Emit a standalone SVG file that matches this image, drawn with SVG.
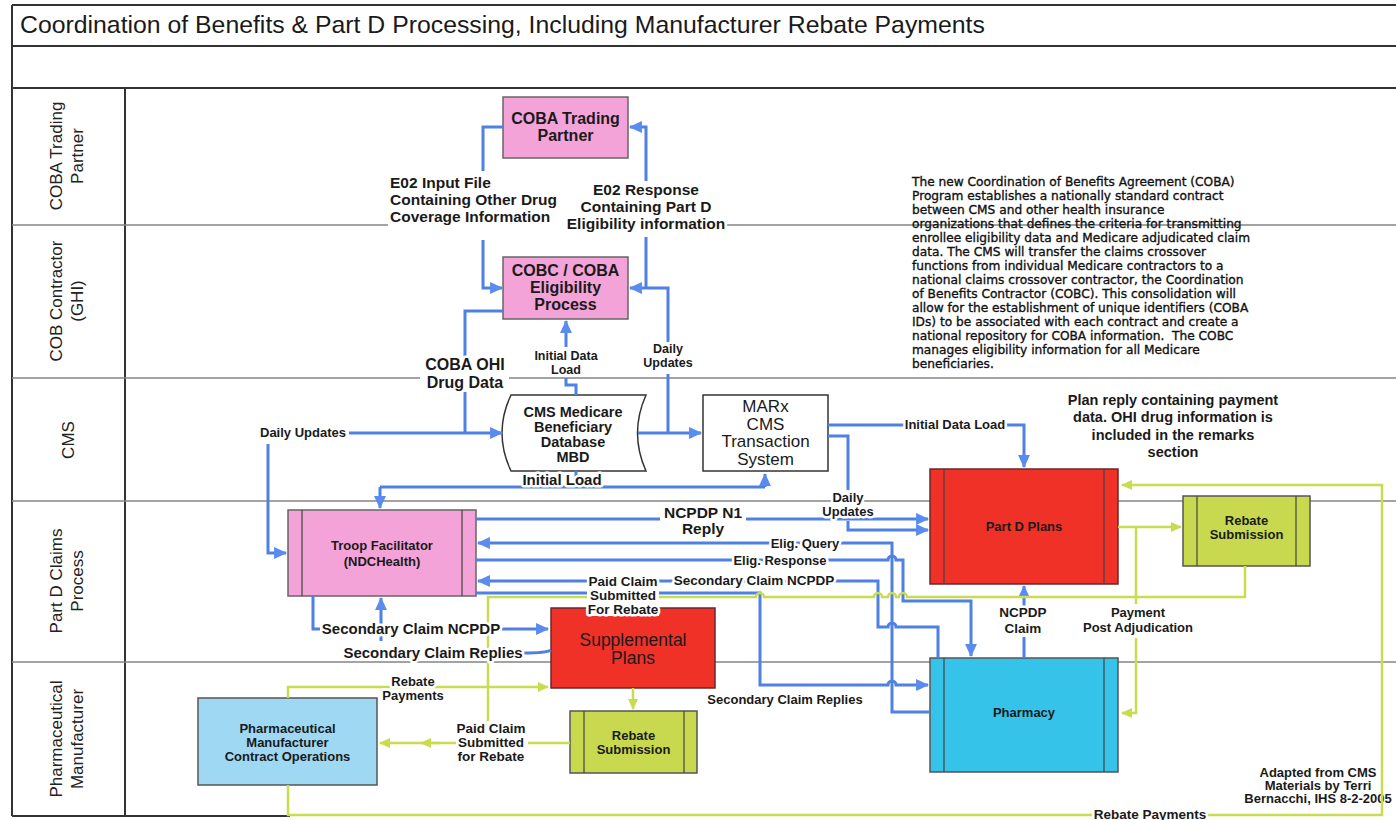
<svg xmlns="http://www.w3.org/2000/svg" width="1396" height="820" viewBox="0 0 1396 820">
<defs>
<style>
.frame{stroke:#333;stroke-width:2;fill:none}
.lane{stroke:#858585;stroke-width:1.5;fill:none}
.b{stroke:#4f80e4;stroke-width:3;fill:none}
.y{stroke:#c9dc4f;stroke-width:2.5;fill:none}
.ab{marker-end:url(#ma)}
.ay{marker-end:url(#my)}
text{font-family:"Liberation Sans",Arial,sans-serif;fill:#1a1a1a}
.ln{font-size:17px;text-anchor:middle;fill:#222}
.lbl{font-weight:bold;stroke:#fff;stroke-width:5;stroke-linejoin:round;paint-order:stroke;text-anchor:middle}
.nb{font-weight:bold;font-size:16px;text-anchor:middle}
.nt{font-weight:bold;font-size:13px;text-anchor:middle}
.pink{fill:#f4a3d9;stroke:#666;stroke-width:1.5}
.red{fill:#ef3128;stroke:#6a2a2a;stroke-width:1.5}
.grn{fill:#c8d94f;stroke:#555;stroke-width:1.5}
.cyan{fill:#36c3ea;stroke:#555;stroke-width:1.5}
.inner{stroke:#444;stroke-width:1.2;fill:none}
.para{font-family:"DejaVu Sans",Verdana,sans-serif;font-size:12.2px;fill:#111;stroke:#111;stroke-width:0.35}
</style>
<marker id="ma" viewBox="0 0 12 12" refX="11" refY="6" markerWidth="14" markerHeight="13" markerUnits="userSpaceOnUse" orient="auto"><path d="M0,0.5 L12,6 L0,11.5 Z" fill="#5a8cf0"/></marker>
<marker id="my" viewBox="0 0 12 12" refX="11" refY="6" markerWidth="13" markerHeight="11" markerUnits="userSpaceOnUse" orient="auto"><path d="M0,0.5 L12,6 L0,11.5 Z" fill="#c9dc4f"/></marker>
</defs>
<rect width="1396" height="820" fill="#fff"/>

<g id="frame">
<path class="frame" d="M12,5 H1396 M12,46 H1396 M12,88 H1396 M12,5 V816 M125,88 V816 M12,816 H290"/>
<path class="lane" d="M12,225 H388 M727,225 H1396 M12,378 H420 M509,378 H1396 M12,501 H1396 M12,662 H1396"/>
<text x="20" y="33" font-size="24.8">Coordination of Benefits &amp; Part D Processing, Including Manufacturer Rebate Payments</text>
</g>

<g id="lanes">
<text class="ln" transform="translate(62,156) rotate(-90)">COBA Trading</text>
<text class="ln" transform="translate(83,156) rotate(-90)">Partner</text>
<text class="ln" transform="translate(62,301) rotate(-90)">COB Contractor</text>
<text class="ln" transform="translate(83,301) rotate(-90)">(GHI)</text>
<text class="ln" transform="translate(74,440) rotate(-90)">CMS</text>
<text class="ln" transform="translate(62,581) rotate(-90)">Part D Claims</text>
<text class="ln" transform="translate(83,581) rotate(-90)">Process</text>
<text class="ln" transform="translate(62,739) rotate(-90)">Pharmaceutical</text>
<text class="ln" transform="translate(83,739) rotate(-90)">Manufacturer</text>
</g>

<g id="notes">
<text class="para" x="912" y="186">The new Coordination of Benefits Agreement (COBA)</text>
<text class="para" x="912" y="200">Program establishes a nationally standard contract</text>
<text class="para" x="912" y="214">between CMS and other health insurance</text>
<text class="para" x="912" y="228">organizations that defines the criteria for transmitting</text>
<text class="para" x="912" y="242">enrollee eligibility data and Medicare adjudicated claim</text>
<text class="para" x="912" y="256">data. The CMS will transfer the claims crossover</text>
<text class="para" x="912" y="270">functions from individual Medicare contractors to a</text>
<text class="para" x="912" y="284">national claims crossover contractor, the Coordination</text>
<text class="para" x="912" y="298">of Benefits Contractor (COBC). This consolidation will</text>
<text class="para" x="912" y="312">allow for the establishment of unique identifiers (COBA</text>
<text class="para" x="912" y="326">IDs) to be associated with each contract and create a</text>
<text class="para" x="912" y="340" xml:space="preserve">national repository for COBA information.  The COBC</text>
<text class="para" x="912" y="354">manages eligibility information for all Medicare</text>
<text class="para" x="912" y="368">beneficiaries.</text>
<g font-weight="bold" font-size="14.5" text-anchor="middle">
<text x="1173" y="405">Plan reply containing payment</text>
<text x="1173" y="422">data. OHI drug information is</text>
<text x="1173" y="440">included in the remarks</text>
<text x="1173" y="457">section</text>
</g>
<g font-weight="bold" font-size="13" text-anchor="middle">
<text x="1318" y="777">Adapted from CMS</text>
<text x="1318" y="790">Materials by Terri</text>
<text x="1318" y="803">Bernacchi, IHS 8-2-2005</text>
</g>
</g>

<g id="coba-trading-partner">
<rect class="pink" x="503" y="97" width="125" height="61"/>
<text class="nb" x="565.5" y="124">COBA Trading</text>
<text class="nb" x="565.5" y="141">Partner</text>
</g>
<g id="cobc-eligibility">
<rect class="pink" x="503" y="257" width="125" height="62"/>
<text class="nb" x="565.5" y="276">COBC / COBA</text>
<text class="nb" x="565.5" y="293">Eligibility</text>
<text class="nb" x="565.5" y="310">Process</text>
</g>
<g id="cms-mbd">
<path d="M511,395 H646 Q629,433 646,471 H511 Q493,433 511,395 Z" fill="#fff" stroke="#333" stroke-width="1.5"/>
<g font-weight="bold" font-size="14.5" text-anchor="middle">
<text x="573" y="417">CMS Medicare</text>
<text x="573" y="432">Beneficiary</text>
<text x="573" y="447">Database</text>
<text x="573" y="462">MBD</text>
</g>
</g>
<g id="marx">
<rect x="703" y="395" width="125" height="76" fill="#fff" stroke="#333" stroke-width="1.5"/>
<g font-size="17" text-anchor="middle">
<text x="765.5" y="412">MARx</text>
<text x="765.5" y="429.5">CMS</text>
<text x="765.5" y="447">Transaction</text>
<text x="765.5" y="464.5">System</text>
</g>
</g>
<g id="part-d-plans">
<rect class="red" x="930" y="469" width="188" height="115"/>
<path class="inner" d="M944,469 V584 M1104,469 V584"/>
<text class="nt" x="1024" y="531" fill="#2a0a0a">Part D Plans</text>
</g>
<g id="rebate-submission-plans">
<rect class="grn" x="1183" y="496" width="127" height="70"/>
<path class="inner" d="M1197,496 V566 M1296,496 V566"/>
<text class="nt" x="1246.5" y="525">Rebate</text>
<text class="nt" x="1246.5" y="539">Submission</text>
</g>
<g id="troop-facilitator">
<rect class="pink" x="288" y="510" width="188" height="86"/>
<path class="inner" d="M302,510 V596 M462,510 V596"/>
<text class="nt" x="382" y="550">Troop Facilitator</text>
<text class="nt" x="382" y="566">(NDCHealth)</text>
</g>
<g id="supplemental-plans">
<rect class="red" x="551" y="608" width="164" height="80"/>
<text x="633" y="646" font-size="17.5" text-anchor="middle" fill="#3d0a0a">Supplemental</text>
<text x="633" y="664" font-size="17.5" text-anchor="middle" fill="#3d0a0a">Plans</text>
</g>
<g id="rebate-submission-supp">
<rect class="grn" x="570" y="711" width="127" height="62"/>
<path class="inner" d="M584,711 V773 M684,711 V773"/>
<text class="nt" x="633.5" y="740">Rebate</text>
<text class="nt" x="633.5" y="754">Submission</text>
</g>
<g id="pharmacy">
<rect class="cyan" x="930" y="658" width="188" height="114"/>
<path class="inner" d="M944,658 V772 M1104,658 V772"/>
<text class="nt" x="1024" y="717">Pharmacy</text>
</g>
<g id="pharma-manufacturer">
<rect x="198" y="698" width="179" height="87" fill="#9fd8f3" stroke="#555" stroke-width="1.5"/>
<text class="nt" x="287.5" y="733">Pharmaceutical</text>
<text class="nt" x="287.5" y="747">Manufacturer</text>
<text class="nt" x="287.5" y="761">Contract Operations</text>
</g>

<g id="connectors">
<path class="b" d="M503,127 H483 V171"/>
<path class="b ab" d="M483,240 V288 H502"/>
<path class="b ab" d="M668,342 V288 H630"/>
<path class="b" d="M646,288 V237"/>
<path class="b ab" d="M646,181 V127 H630"/>
<path class="b" d="M668,433 V374"/>
<path class="b" d="M576,395 V385 H566 V378"/>
<path class="b ab" d="M566,347 V321"/>
<path class="b" d="M503,311 H465 V358"/>
<path class="b" d="M465,392 V433"/>
<path class="b ab" d="M349,433 H502"/>
<path class="b ab" d="M268,444 V553 H286"/>
<path class="b ab" d="M638,433 H701"/>
<path class="b" d="M576,471 V487 M380,487 H765"/>
<path class="b ab" d="M765,487 V474"/>
<path class="b ab" d="M380,487 V508"/>
<path class="b" d="M828,425 H906"/>
<path class="b ab" d="M1004,425 H1024 V467"/>
<path class="b" d="M828,436 H848 V490"/>
<path class="b ab" d="M848,521 V530 H928"/>
<path class="b" d="M476,519 H660"/>
<path class="b ab" d="M746,519 H928"/>
<path class="b ab" d="M930,712 H892 V543 H478"/>
<path class="b ab" d="M476,560 H888 a4,4 0 0 1 8,0 H903 V601 H971 V656"/>
<path class="b ab" d="M938,658 V627 H896 a4,4 0 0 0 -8,0 H878 V581 H478"/>
<path class="b ab" d="M476,593 H760 V685 H888 a4,4 0 0 1 8,0 H928"/>
<path class="b" d="M1024,658 V637"/>
<path class="b ab" d="M1024,606 V586"/>
<path class="b" d="M313,596 V629 H320"/>
<path class="b ab" d="M502,629 H548"/>
<path class="b" d="M551,650 Q546,653 524,653"/>
<path class="b ab" d="M381,641 V598"/>
<path class="y ay" d="M1118,527 H1181"/>
<path class="y" d="M1245,566 V597 H907 a4,4 0 0 0 -8,0 H896 a4,4 0 0 0 -8,0 H882 a4,4 0 0 0 -8,0 H764 a4,4 0 0 0 -8,0 H488 V721"/>
<path class="y" d="M1136,527 V604"/>
<path class="y ay" d="M1136,638 V713 H1122"/>
<path class="y ay" d="M288,785 V815 H1382 V485 H1122"/>
<path class="y ay" d="M288,698 V687 H548"/>
<path class="y ay" d="M633,688 V709"/>
<path class="y" d="M570,743 H528"/>
<path class="y ay" d="M456,743 H380"/>
<path class="y ay" d="M440,743 H421"/>
<g font-size="15.5">
<text class="lbl" x="390" y="188" style="text-anchor:start">E02 Input File</text>
<text class="lbl" x="390" y="205" style="text-anchor:start">Containing Other Drug</text>
<text class="lbl" x="390" y="222" style="text-anchor:start">Coverage Information</text>
<text class="lbl" x="646" y="195">E02 Response</text>
<text class="lbl" x="646" y="212">Containing Part D</text>
<text class="lbl" x="646" y="229">Eligibility information</text>
<text class="lbl" x="703" y="518">NCPDP N1</text>
<text class="lbl" x="703" y="534">Reply</text>
</g>
<g font-size="16">
<text class="lbl" x="465" y="370">COBA OHI</text>
<text class="lbl" x="465" y="388">Drug Data</text>
</g>
<g font-size="12.5">
<text class="lbl" x="566" y="360">Initial Data</text>
<text class="lbl" x="566" y="374">Load</text>
<text class="lbl" x="668" y="353">Daily</text>
<text class="lbl" x="668" y="367">Updates</text>
</g>
<g font-size="13">
<text class="lbl" x="303" y="437">Daily Updates</text>
<text class="lbl" x="955" y="429">Initial Data Load</text>
<text class="lbl" x="848" y="502">Daily</text>
<text class="lbl" x="848" y="516">Updates</text>
<text class="lbl" x="805" y="548">Elig. Query</text>
<text class="lbl" x="780" y="565">Elig. Response</text>
<text class="lbl" x="785" y="704">Secondary Claim Replies</text>
<text class="lbl" x="1138" y="617">Payment</text>
<text class="lbl" x="1138" y="632">Post Adjudication</text>
<text class="lbl" x="413" y="686">Rebate</text>
<text class="lbl" x="413" y="700">Payments</text>
</g>
<text class="lbl" x="562" y="485" font-size="15">Initial Load</text>
<g font-size="13.5">
<text class="lbl" x="754" y="585">Secondary Claim NCPDP</text>
<rect x="587" y="573" width="72" height="43" fill="#fff"/>
<text class="lbl" x="623" y="586">Paid Claim</text>
<text class="lbl" x="623" y="600">Submitted</text>
<text class="lbl" x="623" y="614">For Rebate</text>
<text class="lbl" x="1023" y="617">NCPDP</text>
<text class="lbl" x="1023" y="633">Claim</text>
<text class="lbl" x="491" y="733">Paid Claim</text>
<text class="lbl" x="491" y="747">Submitted</text>
<text class="lbl" x="491" y="761">for Rebate</text>
<text class="lbl" x="1150" y="819">Rebate Payments</text>
</g>
<g font-size="15">
<text class="lbl" x="411" y="634">Secondary Claim NCPDP</text>
<text class="lbl" x="433" y="658">Secondary Claim Replies</text>
</g>
</g>
</svg>
